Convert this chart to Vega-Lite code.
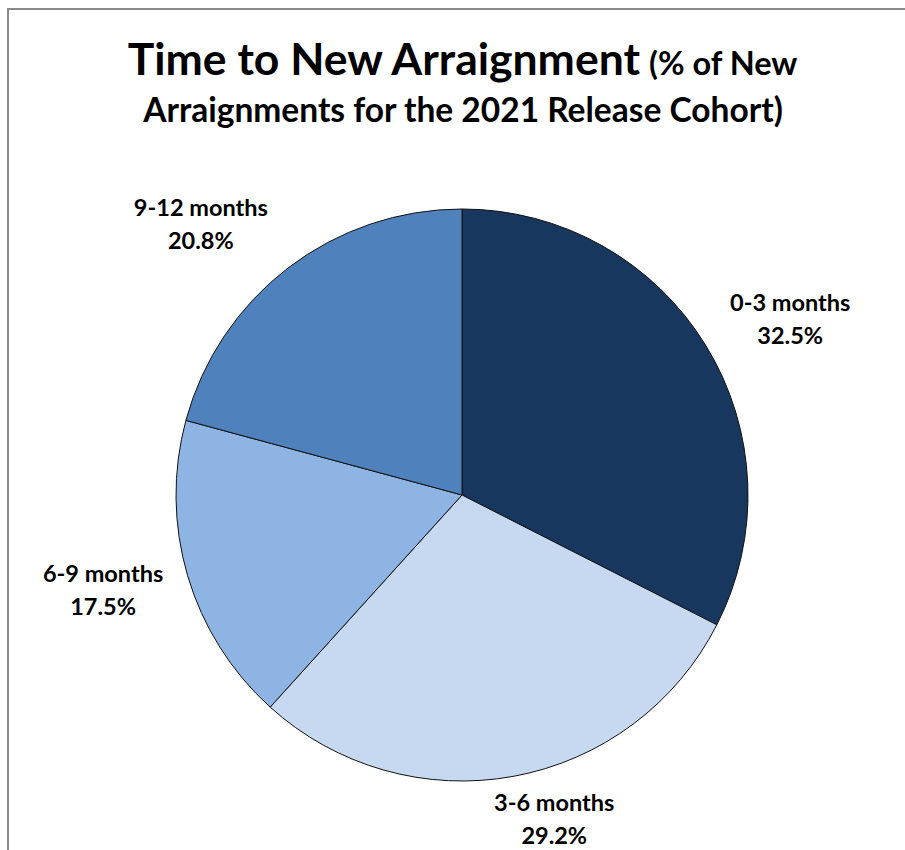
{
  "$schema": "https://vega.github.io/schema/vega-lite/v6.json",
  "autosize": {"type": "none"},
  "width": 886,
  "height": 710,
  "padding": {"left": 19, "top": 140, "right": 0, "bottom": 0},
  "background": "white",
  "config": {"view": {"stroke": null}, "text": {"font": "Lato", "fontWeight": "bold", "color": "black"}},
  "datasets": {
    "cohort": [
      {"category": "0-3 months", "share": 0.325},
      {"category": "3-6 months", "share": 0.292},
      {"category": "6-9 months", "share": 0.175},
      {"category": "9-12 months", "share": 0.208}
    ]
  },
  "layer": [
    {
      "data": {"values": [{}]},
      "mark": {"type": "rule", "color": "#8a8a8a", "strokeWidth": 2},
      "encoding": {"x": {"value": -11}, "y": {"value": -132}, "y2": {"value": 712}}
    },
    {
      "data": {"values": [{}]},
      "mark": {"type": "rule", "color": "#8a8a8a", "strokeWidth": 2},
      "encoding": {"y": {"value": -131}, "x": {"value": -12}, "x2": {"value": 890}}
    },
    {
      "data": {"values": [{}]},
      "mark": {"type": "text", "text": "Time to New Arraignment", "fontSize": 44.5, "align": "right", "baseline": "alphabetic"},
      "encoding": {"x": {"value": 621}, "y": {"value": -65}}
    },
    {
      "data": {"values": [{}]},
      "mark": {"type": "text", "text": "(% of New", "fontSize": 32.5, "align": "left", "baseline": "alphabetic"},
      "encoding": {"x": {"value": 630}, "y": {"value": -65}}
    },
    {
      "data": {"values": [{}]},
      "mark": {"type": "text", "text": "Arraignments for the 2021 Release Cohort)", "fontSize": 33.5, "align": "center", "baseline": "alphabetic"},
      "encoding": {"x": {"value": 444}, "y": {"value": -18}}
    },
    {
      "data": {"name": "cohort"},
      "mark": {"type": "arc", "outerRadius": 286, "stroke": "#111111", "strokeWidth": 1},
      "encoding": {
        "theta": {"field": "share", "type": "quantitative", "stack": true},
        "order": {"field": "category", "type": "ordinal", "sort": "ascending"},
        "color": {
          "field": "category",
          "type": "nominal",
          "scale": {"domain": ["0-3 months", "3-6 months", "6-9 months", "9-12 months"], "range": ["#17375e", "#c6d9f1", "#8eb4e3", "#4f81bd"]},
          "legend": null
        }
      }
    },
    {
      "data": {"name": "cohort"},
      "transform": [{"calculate": "datum.category + '\\n' + format(datum.share, '.1%')", "as": "label"}],
      "mark": {"type": "text", "radius": 372, "dx": 11, "dy": 3, "fontSize": 23.5, "lineBreak": "\n", "lineHeight": 33, "align": "center", "baseline": "middle"},
      "encoding": {
        "theta": {"field": "share", "type": "quantitative", "stack": true},
        "order": {"field": "category", "type": "ordinal", "sort": "ascending"},
        "detail": {"field": "category", "type": "nominal"},
        "text": {"condition": {"test": "datum.category === '0-3 months'", "field": "label", "type": "nominal"}, "value": ""}
      }
    },
    {
      "data": {"name": "cohort"},
      "transform": [{"calculate": "datum.category + '\\n' + format(datum.share, '.1%')", "as": "label"}],
      "mark": {"type": "text", "radius": 338, "dx": 31, "dy": -23, "fontSize": 23.5, "lineBreak": "\n", "lineHeight": 33, "align": "center", "baseline": "middle"},
      "encoding": {
        "theta": {"field": "share", "type": "quantitative", "stack": true},
        "order": {"field": "category", "type": "ordinal", "sort": "ascending"},
        "detail": {"field": "category", "type": "nominal"},
        "text": {"condition": {"test": "datum.category === '3-6 months'", "field": "label", "type": "nominal"}, "value": ""}
      }
    },
    {
      "data": {"name": "cohort"},
      "transform": [{"calculate": "datum.category + '\\n' + format(datum.share, '.1%')", "as": "label"}],
      "mark": {"type": "text", "radius": 372, "dx": -2, "dy": -25, "fontSize": 23.5, "lineBreak": "\n", "lineHeight": 33, "align": "center", "baseline": "middle"},
      "encoding": {
        "theta": {"field": "share", "type": "quantitative", "stack": true},
        "order": {"field": "category", "type": "ordinal", "sort": "ascending"},
        "detail": {"field": "category", "type": "nominal"},
        "text": {"condition": {"test": "datum.category === '6-9 months'", "field": "label", "type": "nominal"}, "value": ""}
      }
    },
    {
      "data": {"name": "cohort"},
      "transform": [{"calculate": "datum.category + '\\n' + format(datum.share, '.1%')", "as": "label"}],
      "mark": {"type": "text", "radius": 372, "dx": -35, "dy": 9, "fontSize": 23.5, "lineBreak": "\n", "lineHeight": 33, "align": "center", "baseline": "middle"},
      "encoding": {
        "theta": {"field": "share", "type": "quantitative", "stack": true},
        "order": {"field": "category", "type": "ordinal", "sort": "ascending"},
        "detail": {"field": "category", "type": "nominal"},
        "text": {"condition": {"test": "datum.category === '9-12 months'", "field": "label", "type": "nominal"}, "value": ""}
      }
    }
  ]
}
